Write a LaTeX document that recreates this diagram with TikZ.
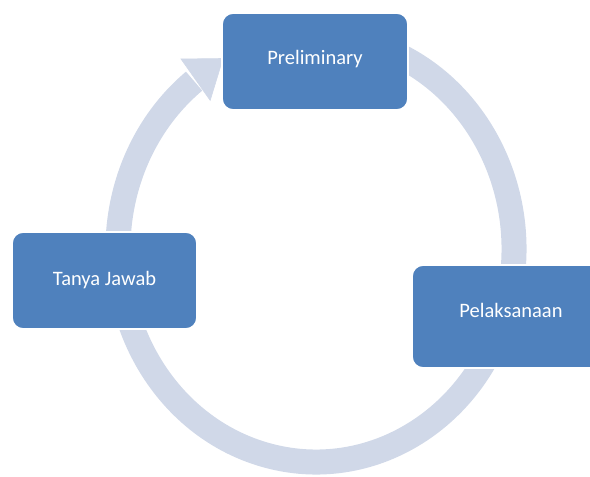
\documentclass[tikz,border=0pt]{standalone}
\usepackage{fontspec}
\setmainfont{Carlito}
\usetikzlibrary{calc}
\definecolor{boxblue}{HTML}{4F81BD}
\definecolor{ringblue}{HTML}{D0D8E8}
\begin{document}
\begin{tikzpicture}[x=1pt,y=1pt,
  ring/.style={draw=ringblue, line width=25pt},
  ringhead/.style={fill=ringblue, draw=ringblue, line width=0.6pt, line join=miter},
  stagebox/.style={draw=white, line width=1.8pt, fill=boxblue, rounded corners=11pt,
    text=white, font=\fontsize{20.5}{24}\selectfont, inner sep=0pt}]
\useasboundingbox (0,0) rectangle (590,477);
\coordinate (c) at (316,228);
\coordinate (rs) at ($(c)+(75:198pt and 213pt)$);
\coordinate (hl) at (181,418);
\coordinate (hr) at (210.2,376.6);
\coordinate (ht) at (223,418.5);
% circular arrow ring
\draw[ring] (rs) arc[start angle=75, end angle=-232, x radius=198, y radius=213];
\filldraw[ringhead] (hl) -- (ht) -- (hr) -- cycle;
% stages
\node[stagebox, minimum width=186pt, minimum height=97pt] (pre) at (315,415.5) {\raisebox{2pt}[\height][\depth]{Preliminary}};
\node[stagebox, minimum width=198pt, minimum height=103pt] (pel) at (511,160.5) {\raisebox{6pt}[\height][\depth]{Pelaksanaan}};
\node[stagebox, minimum width=185pt, minimum height=97pt] (tj) at (104.5,196.5) {Tanya Jawab};
\end{tikzpicture}
\end{document}
